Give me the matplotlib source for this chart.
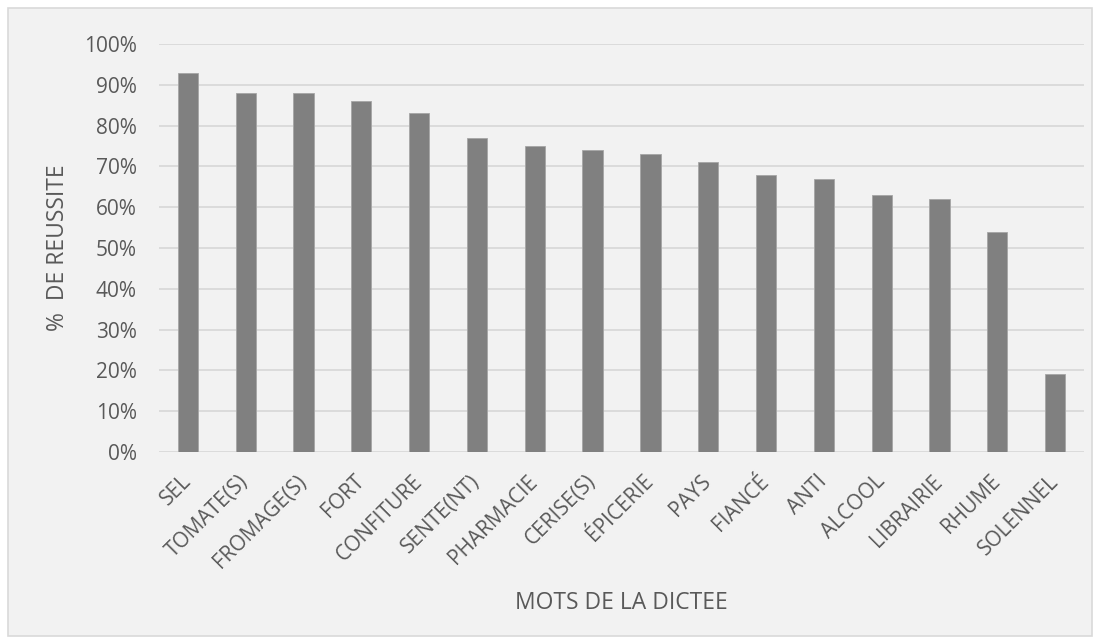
import matplotlib.pyplot as plt
from matplotlib.patches import Rectangle
from matplotlib.ticker import PercentFormatter

# mots de la dictee et % de reussite
mots = ['SEL', 'TOMATE(S)', 'FROMAGE(S)', 'FORT', 'CONFITURE', 'SENTE(NT)',
        'PHARMACIE', 'CERISE(S)', 'ÉPICERIE', 'PAYS', 'FIANCÉ', 'ANTI',
        'ALCOOL', 'LIBRAIRIE', 'RHUME', 'SOLENNEL']
reussite = [93, 88, 88, 86, 83, 77, 75, 74, 73, 71, 68, 67, 63, 62, 54, 19]

plt.rcParams['font.family'] = ['Open Sans', 'DejaVu Sans']
txt = '#595959'

fig = plt.figure(figsize=(10.98, 6.44), dpi=100)
fig.patch.set_facecolor('white')
# cadre du graphique, sous les axes
cadre = Rectangle((8/1098, 8/644), 1084/1098, 628/644, transform=fig.transFigure,
                  facecolor='#F2F2F2', edgecolor='#D9D9D9', lw=1.2, zorder=-10)
fig.add_artist(cadre)

ax = fig.add_axes([159/1098, 1 - 452/644, 925/1098, 408/644])
ax.set_facecolor('#F2F2F2')
x = range(len(mots))
ax.bar(x, reussite, width=0.35, color='#808080', edgecolor='#A6A6A6', lw=0.6, zorder=3)
ax.set_xlim(-0.5, len(mots) - 0.5)
ax.set_ylim(0, 100)
ax.set_yticks(range(0, 101, 10))
ax.yaxis.set_major_formatter(PercentFormatter(decimals=0))
ax.grid(axis='y', color='#D9D9D9', lw=1.3, zorder=0)
for s in ax.spines.values():
    s.set_visible(False)
ax.tick_params(length=0, labelsize=15, colors=txt)
ax.tick_params(axis='y', pad=16)
ax.set_xticks(list(x))
ax.set_xticklabels(mots, rotation=45, ha='right', va='center', rotation_mode='anchor')
ax.tick_params(axis='x', pad=19)

ax.set_ylabel('%  DE REUSSITE', fontsize=16.5, color=txt)
ax.set_xlabel('MOTS DE LA DICTEE', fontsize=16.5, color=txt)
ax.yaxis.set_label_coords(-(159 - 70) / 925, 0.5)
ax.xaxis.set_label_coords(0.5, -(591 - 452) / 408)

fig.savefig('out.png', dpi=100, facecolor=fig.get_facecolor())
